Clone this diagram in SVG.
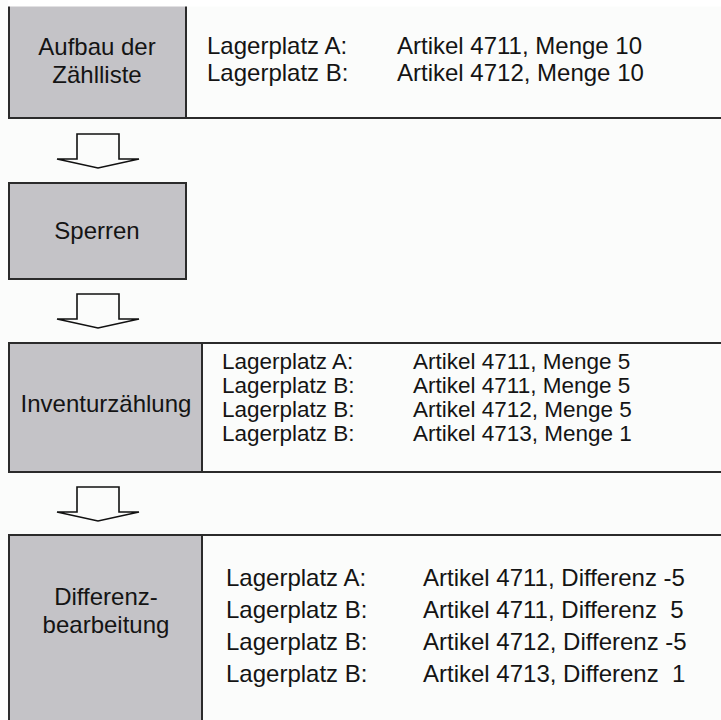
<svg xmlns="http://www.w3.org/2000/svg" width="721" height="720" viewBox="0 0 721 720">
<style>
text{font-family:"Liberation Sans",Arial,sans-serif;font-size:24px;fill:#141414;white-space:pre}
.c{text-anchor:middle}
.s{font-size:22.5px}
.panel{fill:#fbfcfb;stroke:#2b2b2b;stroke-width:2}
.cell{fill:#c4c3c7;stroke:#2b2b2b;stroke-width:2}
.arrow{fill:#fbfcfb;stroke:#111;stroke-width:1.6;stroke-linejoin:miter}
</style>
<defs>
<path id="arr" class="arrow" d="M77,25 V0 H119 V25 H139 L98,34 L57,25 Z"/>
</defs>
<rect x="0" y="0" width="721" height="720" fill="#fbfcfb"/>
<g id="node-aufbau">
<rect class="panel" x="9" y="5" width="720" height="113"/>
<rect class="cell" x="9" y="5" width="177" height="113"/>
<rect x="8" y="0" width="720" height="6.5" fill="#ffffff"/>
<text class="c" x="97" y="55">Aufbau der</text>
<text class="c" x="97" y="83">Zählliste</text>
<text x="207" y="54">Lagerplatz A:</text>
<text x="397" y="54">Artikel 4711, Menge 10</text>
<text x="207" y="81">Lagerplatz B:</text>
<text x="397" y="81">Artikel 4712, Menge 10</text>
</g>
<g id="node-sperren">
<rect class="cell" x="9" y="183" width="177" height="96"/>
<text class="c" x="97" y="239">Sperren</text>
</g>
<g id="node-inventur">
<rect class="panel" x="9" y="343" width="720" height="129"/>
<rect class="cell" x="9" y="343" width="193" height="129"/>
<text class="c" x="106" y="412">Inventurzählung</text>
<text class="s" x="222" y="369">Lagerplatz A:</text>
<text class="s" x="413" y="369">Artikel 4711, Menge 5</text>
<text class="s" x="222" y="393">Lagerplatz B:</text>
<text class="s" x="413" y="393">Artikel 4711, Menge 5</text>
<text class="s" x="222" y="417">Lagerplatz B:</text>
<text class="s" x="413" y="417">Artikel 4712, Menge 5</text>
<text class="s" x="222" y="441">Lagerplatz B:</text>
<text class="s" x="413" y="441">Artikel 4713, Menge 1</text>
</g>
<g id="node-differenz">
<rect class="panel" x="9" y="535" width="720" height="200"/>
<rect class="cell" x="9" y="535" width="193" height="200"/>
<text class="c" x="106" y="605">Differenz-</text>
<text class="c" x="106" y="633">bearbeitung</text>
<text x="226" y="586">Lagerplatz A:</text>
<text x="423" y="586">Artikel 4711, Differenz -5</text>
<text x="226" y="618">Lagerplatz B:</text>
<text x="423" y="618">Artikel 4711, Differenz  5</text>
<text x="226" y="650">Lagerplatz B:</text>
<text x="423" y="650">Artikel 4712, Differenz -5</text>
<text x="226" y="682">Lagerplatz B:</text>
<text x="423" y="682">Artikel 4713, Differenz  1</text>
</g>
<g id="connectors">
<use href="#arr" transform="translate(0,134)"/>
<use href="#arr" transform="translate(0,294)"/>
<use href="#arr" transform="translate(0,487)"/>
</g>
</svg>
